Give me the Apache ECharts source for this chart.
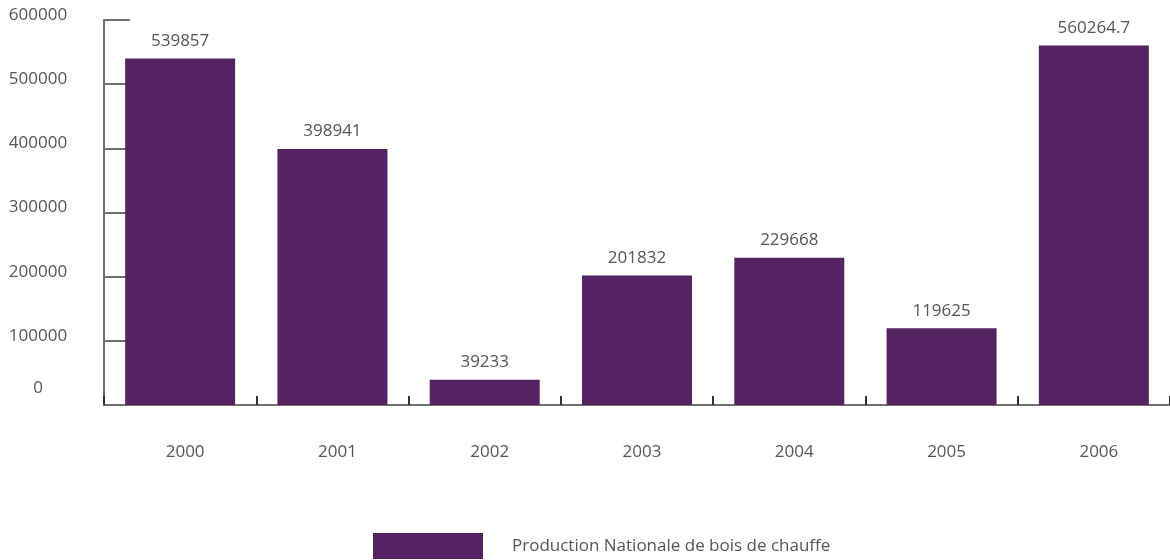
<!DOCTYPE html>
<html>
<head>
<meta charset="utf-8">
<script src="https://cdn.jsdelivr.net/npm/echarts@6/dist/echarts.min.js"></script>
<style>
  html, body { margin: 0; padding: 0; background: #fff; }
  #main { width: 1170px; height: 560px; }
</style>
</head>
<body>
<div id="main"></div>
<script>
const years = ['2000', '2001', '2002', '2003', '2004', '2005', '2006']
const production = [539857, 398941, 39233, 201832, 229668, 119625, 560264.7]
const seriesName = 'Production Nationale de bois de chauffe'

const chart = echarts.init(document.getElementById('main'))
const font = '"Open Sans", sans-serif'

const option = {
  animation: false,
  grid: {
    left: 104,
    top: 20,
    width: 1071,
    height: 385,
  },
  legend: {
    left: 368,
    top: 528,
    itemWidth: 110,
    itemHeight: 26,
    icon: 'rect',
    data: [seriesName],
    formatter: function (name) {
      return '{t|' + name + '}'
    },
    textStyle: {
      rich: {
        t: { fontFamily: font, fontSize: 17, color: '#555', padding: [0, 0, 0, 24] },
      },
    },
  },
  xAxis: {
    type: 'category',
    data: years,
    axisLine: { lineStyle: { color: '#707070', width: 2 } },
    axisTick: { show: true, inside: true, length: 9, lineStyle: { color: '#333', width: 2 } },
    axisLabel: {
      margin: 39,
      fontFamily: font,
      fontSize: 17,
      color: '#555',
      padding: [0, 0, 0, 10],
    },
  },
  yAxis: {
    type: 'value',
    min: 0,
    max: 600000,
    interval: 100000,
    splitLine: { show: false },
    axisLine: { show: true, lineStyle: { color: '#707070', width: 2 } },
    axisTick: { show: true, inside: true, length: 26, lineStyle: { color: '#707070', width: 2 } },
    axisLabel: {
      margin: 66,
      align: 'center',
      formatter: function (v) {
        return v === 0 ? '{z|0}' : '{n|' + v + '}'
      },
      rich: {
        n: { fontFamily: font, fontSize: 17, color: '#555', padding: [0, 0, 10, 0] },
        z: { fontFamily: font, fontSize: 17, color: '#555', padding: [0, 0, 34, 0] },
      },
    },
  },
  series: [
    {
      name: seriesName,
      type: 'bar',
      data: production,
      barWidth: 110,
      itemStyle: { color: '#562362' },
      label: {
        show: true,
        position: 'top',
        distance: 9,
        fontFamily: font,
        fontSize: 17,
        color: '#555',
      },
    },
  ],
}

chart.setOption(option)
</script>
</body>
</html>
